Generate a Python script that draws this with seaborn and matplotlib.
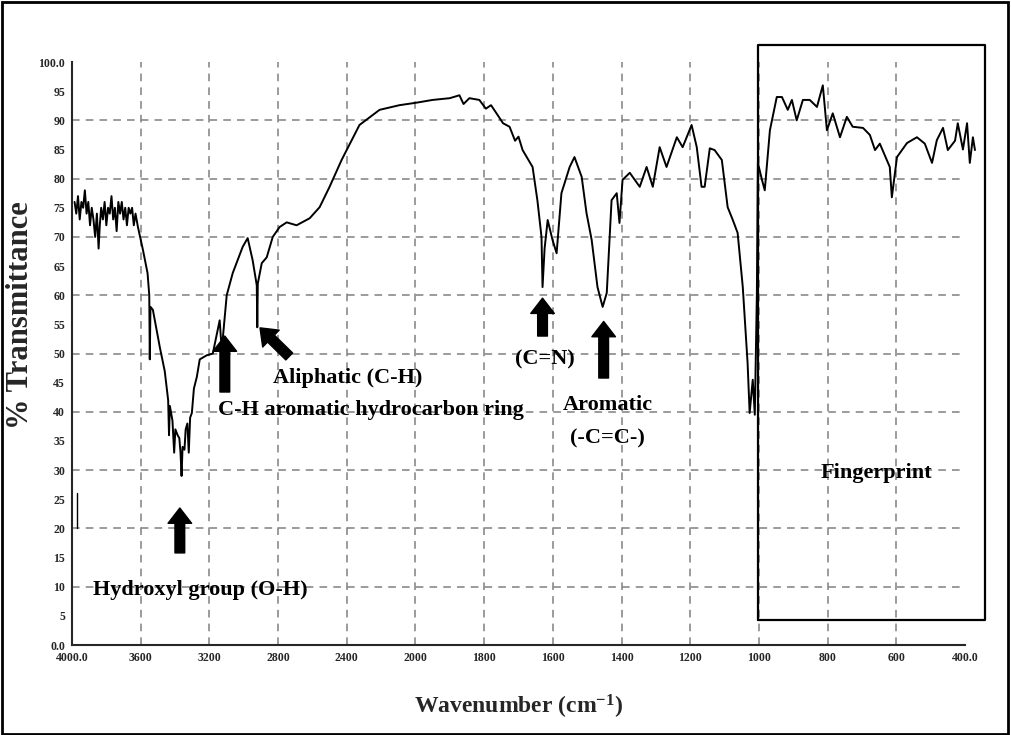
import numpy as np
import pandas as pd
import matplotlib
matplotlib.use("Agg")
import matplotlib.pyplot as plt
import seaborn as sns

# FTIR spectrum (wavenumber cm-1, % transmittance)
wavenumber = [
    3985, 3975, 3965, 3955, 3945, 3935, 3925, 3915, 3905, 3895, 3885, 3875, 3865, 3855, 3845,
    3838, 3830, 3820, 3810, 3800, 3790, 3780, 3770, 3760, 3750, 3740, 3730, 3720, 3710, 3700,
    3690, 3680, 3670, 3660, 3650, 3640, 3630, 3616, 3587, 3560, 3550, 3547, 3543, 3529, 3488,
    3460, 3440, 3435, 3430, 3415, 3405, 3398, 3385, 3375, 3368, 3362, 3356, 3345, 3338, 3328,
    3320, 3312, 3302, 3290, 3273, 3256, 3215, 3180, 3140, 3128, 3099, 3064, 3006, 2977, 2948,
    2924, 2921, 2918, 2895, 2866, 2831, 2791, 2750, 2692, 2616, 2558, 2500, 2430, 2326, 2209,
    2093, 2000, 1950, 1900, 1872, 1860, 1843, 1814, 1795, 1780, 1764, 1745, 1726, 1710, 1700,
    1688, 1659, 1645, 1633, 1630, 1624, 1615,
    1601, 1589, 1575, 1551, 1537, 1516, 1502, 1487, 1470, 1455, 1443, 1429, 1414, 1406, 1397,
    1376, 1347, 1327, 1309, 1289, 1269, 1239, 1222, 1196, 1181, 1167, 1158, 1143, 1129, 1108,
    1091, 1076, 1062, 1047, 1033, 1027, 1018, 1012, 1006, 1003, 992, 983, 968, 948, 933,
    916, 904, 890, 872, 852, 831, 814, 802, 785, 764, 744, 727, 697, 677, 662,
    648, 619, 613, 598, 569, 540, 517, 496, 482, 464, 450, 429, 421, 406, 394,
    386, 377, 371,
]
transmittance = [
    76, 74, 77, 73, 76, 75, 78, 74, 76, 72, 75, 73, 70, 74, 68,
    72, 75, 73, 76, 72, 75, 74, 77, 73, 75, 71, 76, 74, 76, 73,
    75, 72, 75, 74, 75, 72, 74, 71.7, 67.8, 63.8, 60, 49, 58, 57.5, 51,
    47, 42, 36, 41, 38.5, 33, 37, 36, 35.5, 33, 29, 34, 33.5, 37, 38,
    33, 39, 39.8, 44, 46, 49, 49.7, 50, 55.7, 50.6, 60, 63.8, 68.3, 69.8, 66,
    61.7, 54.5, 62, 65.5, 66.5, 70, 71.7, 72.5, 72, 73.2, 75.1, 78.6, 83.2, 89.2, 91.8,
    92.6, 93, 93.5, 93.8, 94.3, 92.8, 93.8, 93.5, 92, 92.6, 91.2, 89.5, 88.9, 86.5, 87.2,
    84.9, 82, 76.3, 70, 61.4, 68, 72.9,
    69.5, 67.2, 77.5, 82, 83.7, 80.3, 74.1, 69.5, 61.4, 58, 60.4, 76.3, 77.5, 72.4, 79.8,
    81, 78.6, 82, 78.6, 85.4, 82, 87.1, 85.4, 89.2, 85.4, 78.6, 78.6, 85.2, 84.9, 83.2,
    75.1, 72.9, 70.7, 61.4, 48.4, 39.8, 45.5, 39.5, 60, 82.7, 80, 78, 88.3, 94, 94,
    91.8, 93.5, 90, 93.5, 93.5, 92.3, 96, 88.3, 91.2, 87.1, 90.6, 88.9, 88.7, 87.5, 84.9,
    86, 82, 76.8, 83.7, 86.1, 87.1, 86, 82.7, 86.6, 88.7, 84.9, 86.5, 89.5, 85, 89.5,
    82.7, 87.1, 84.9,
]

x_ticks = [4000, 3600, 3200, 2800, 2400, 2000, 1800, 1600, 1400, 1200, 1000, 800, 600, 400]
x_labels = ["4000.0", "3600", "3200", "2800", "2400", "2000", "1800", "1600", "1400",
            "1200", "1000", "800", "600", "400.0"]
y_ticks = list(range(0, 101, 5))
y_labels = ["0.0"] + [str(v) for v in y_ticks[1:-1]] + ["100.0"]

df = pd.DataFrame({"Wavenumber": wavenumber, "T": transmittance})

sns.set_style("white")
plt.rcParams["font.family"] = ["Liberation Serif", "DejaVu Serif"]
plt.rcParams["mathtext.fontset"] = "custom"
plt.rcParams["mathtext.rm"] = "Liberation Serif:bold"
plt.rcParams["mathtext.default"] = "rm"


# spectrometer axis: scale doubles below 2000 cm-1
def fwd(w):
    w = np.asarray(w, dtype=float)
    return np.where(w > 2000, 2000 + (w - 2000) / 2.0, w)


def inv(u):
    u = np.asarray(u, dtype=float)
    return np.where(u > 2000, 2000 + (u - 2000) * 2.0, u)


fig = plt.figure(figsize=(10.11, 7.35), dpi=100)
ax = fig.add_axes([0.0712, 0.1224, 0.8833, 0.7932])
ax.set_xscale("function", functions=(fwd, inv))

sns.lineplot(data=df, x="Wavenumber", y="T", ax=ax, color="black", linewidth=1.4,
             estimator=None, sort=False, clip_on=False)

ax.set_xlim(4000, 400)
ax.set_ylim(0, 100)
ax.set_xticks(x_ticks)
ax.set_xticklabels(x_labels)
ax.set_yticks(y_ticks)
ax.set_yticklabels(y_labels)
ax.tick_params(axis="both", labelsize=8.5, length=3, width=1, direction="out", pad=2)
for lab in ax.get_xticklabels() + ax.get_yticklabels():
    lab.set_fontweight("bold")

# grid
for v in x_ticks[1:-1]:
    ax.axvline(v, color="#808080", linestyle=(0, (5, 4)), linewidth=1.1, zorder=0)
for v in range(10, 100, 10):
    ax.axhline(v, color="#808080", linestyle=(0, (5, 4)), linewidth=1.1, zorder=0)

for s in ["top", "right"]:
    ax.spines[s].set_visible(False)
ax.spines["left"].set_linewidth(1.5)
ax.spines["bottom"].set_linewidth(1.5)
ax.plot([3970, 3970], [20, 26], color="black", linewidth=1, clip_on=False)

ax.set_xlabel("Wavenumber (cm$^{-1}$)", fontsize=17, fontweight="bold", labelpad=21)
ax.set_ylabel("% Transmittance", fontsize=22, fontweight="bold")
ax.yaxis.set_label_coords(-0.041, 0.566)

arrow = dict(facecolor="black", edgecolor="black", width=7, headwidth=17,
             headlength=11, shrink=0)
txt = dict(fontsize=16, fontweight="bold", color="black")

ax.annotate("", xy=(3372, 23.5), xytext=(3372, 15.8), arrowprops=arrow)
ax.text(3880, 9.4, "Hydroxyl group (O-H)", ha="left", va="center", **txt)

ax.annotate("", xy=(3110, 53), xytext=(3110, 43.4), arrowprops=arrow)
ax.text(3150, 40.3, "C-H aromatic hydrocarbon ring", ha="left", va="center", **txt)

ax.annotate("", xy=(2905, 54.4), xytext=(2735, 49.5), arrowprops=arrow)
ax.text(2830, 45.8, "Aliphatic (C-H)", ha="left", va="center", **txt)

ax.annotate("", xy=(1630, 59.5), xytext=(1630, 53), arrowprops=arrow)
ax.text(1624, 48.9, "(C=N)", ha="center", va="center", **txt)

ax.annotate("", xy=(1452, 55.5), xytext=(1452, 45.8), arrowprops=arrow)
ax.text(1440, 41.2, "Aromatic", ha="center", va="center", **txt)
ax.text(1440, 35.5, "(-C=C-)", ha="center", va="center", **txt)

ax.plot([1003, 1003, 342, 342, 1003], [4.3, 102.9, 102.9, 4.3, 4.3],
        color="black", linewidth=1.6, clip_on=False)
ax.text(657, 29.5, "Fingerprint", ha="center", va="center", **txt)

fig.patches.append(plt.Rectangle((0.002, 0.002), 0.995, 0.995, transform=fig.transFigure,
                                 fill=False, edgecolor="black", linewidth=2))

fig.savefig("out.png", dpi=100)
